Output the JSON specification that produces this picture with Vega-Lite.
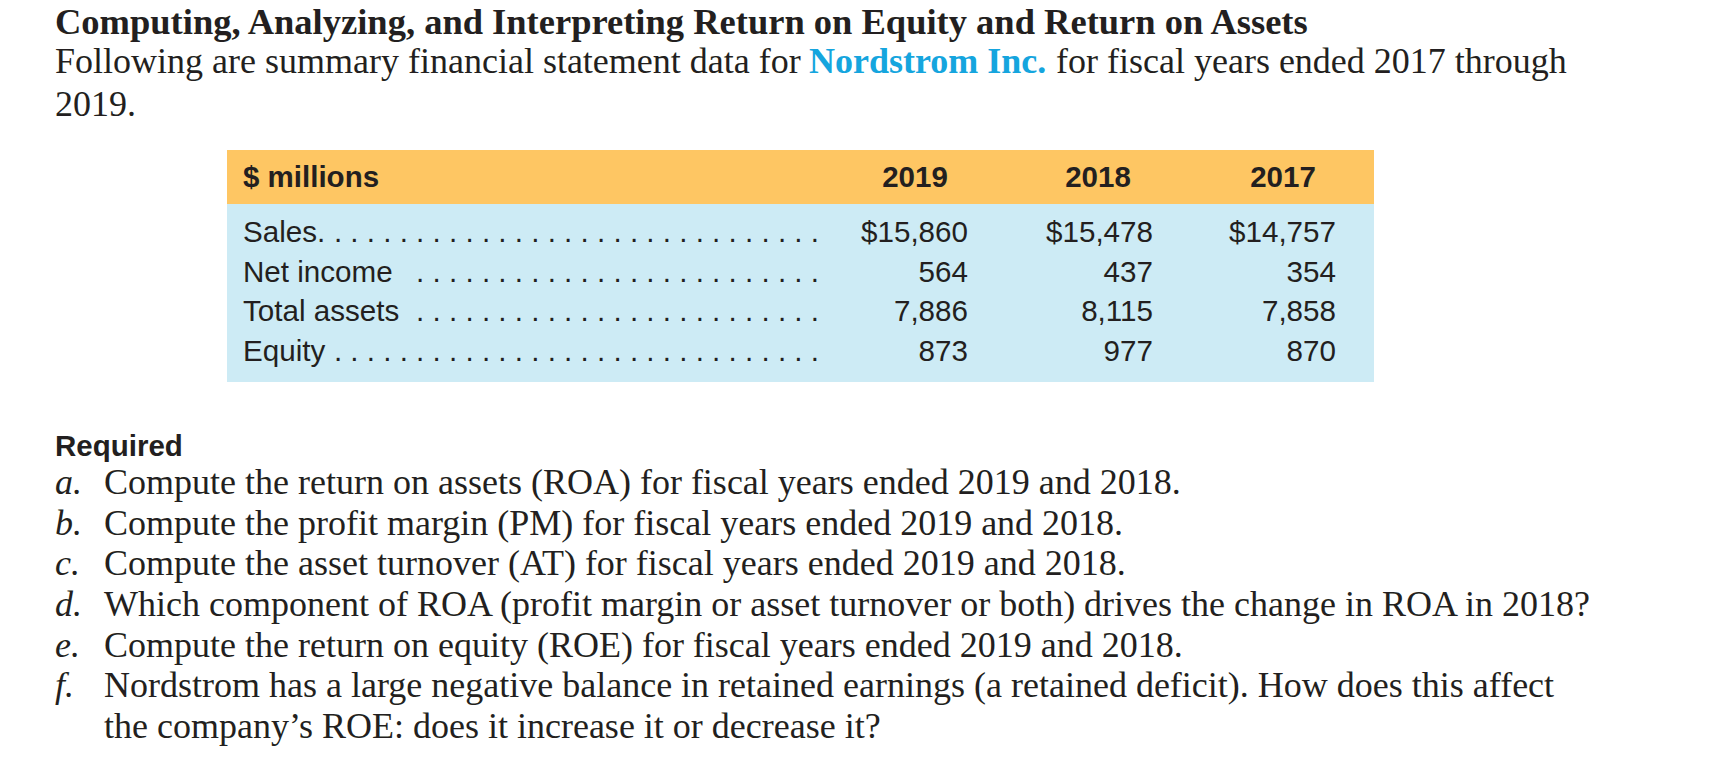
{
  "$schema": "https://vega.github.io/schema/vega-lite/v6.json",
  "width": 1710,
  "height": 773,
  "autosize": {"type": "fit", "contains": "padding"},
  "padding": 0,
  "background": "white",
  "config": {"view": {"stroke": null}, "axis": {"disable": true}, "legend": {"disable": true}},
  "resolve": {"scale": {"x": "independent", "y": "independent", "color": "independent"}},
  "layer": [
    {
      "data": {"values": [
        {"part": "header", "row_start": 0, "row_end": 1},
        {"part": "body", "row_start": 1, "row_end": 5}
      ]},
      "mark": {"type": "rect"},
      "encoding": {
        "x": {"datum": 0, "type": "quantitative", "scale": {"domain": [0, 1], "range": [227, 1374], "nice": false, "zero": false}},
        "x2": {"datum": 1},
        "y": {"field": "row_start", "type": "quantitative", "scale": {"domain": [0, 1, 5], "range": [150, 204, 382], "nice": false, "zero": false}},
        "y2": {"field": "row_end"},
        "color": {"field": "part", "type": "nominal", "scale": {"domain": ["header", "body"], "range": ["#FEC663", "#CDEBF5"]}, "legend": null}
      }
    },
    {
      "data": {"values": [{"line": 1, "seg": 1, "text": "Computing, Analyzing, and Interpreting Return on Equity and Return on Assets"}]},
      "mark": {"type": "text", "align": "left", "baseline": "alphabetic", "font": "Liberation Serif", "fontSize": 36.5, "fontWeight": "bold", "color": "#231F20"},
      "encoding": {
        "x": {"field": "seg", "type": "quantitative", "scale": {"domain": [1, 2, 3], "range": [55, 809, 1056], "nice": false, "zero": false}},
        "y": {"field": "line", "type": "quantitative", "scale": {"domain": [1, 2, 3], "range": [34, 73, 116], "nice": false, "zero": false}},
        "text": {"field": "text"}
      }
    },
    {
      "data": {"values": [
        {"line": 2, "seg": 1, "text": "Following are summary financial statement data for"},
        {"line": 2, "seg": 3, "text": "for fiscal years ended 2017 through"},
        {"line": 3, "seg": 1, "text": "2019."}
      ]},
      "mark": {"type": "text", "align": "left", "baseline": "alphabetic", "font": "Liberation Serif", "fontSize": 36, "color": "#231F20"},
      "encoding": {
        "x": {"field": "seg", "type": "quantitative", "scale": {"domain": [1, 2, 3], "range": [55, 809, 1056], "nice": false, "zero": false}},
        "y": {"field": "line", "type": "quantitative", "scale": {"domain": [1, 2, 3], "range": [34, 73, 116], "nice": false, "zero": false}},
        "text": {"field": "text"}
      }
    },
    {
      "data": {"values": [{"line": 2, "seg": 2, "text": "Nordstrom Inc."}]},
      "mark": {"type": "text", "align": "left", "baseline": "alphabetic", "font": "Liberation Serif", "fontSize": 36, "fontWeight": "bold", "color": "#15A5DE"},
      "encoding": {
        "x": {"field": "seg", "type": "quantitative", "scale": {"domain": [1, 2, 3], "range": [55, 809, 1056], "nice": false, "zero": false}},
        "y": {"field": "line", "type": "quantitative", "scale": {"domain": [1, 2, 3], "range": [34, 73, 116], "nice": false, "zero": false}},
        "text": {"field": "text"}
      }
    },
    {
      "data": {"values": [{"row": 0, "item": "$ millions"}]},
      "mark": {"type": "text", "align": "left", "baseline": "alphabetic", "font": "Liberation Sans", "fontSize": 29.5, "fontWeight": "bold", "color": "#231F20"},
      "encoding": {
        "x": {"datum": 0, "type": "quantitative", "scale": {"domain": [0, 1], "range": [243, 819], "nice": false, "zero": false}},
        "y": {"field": "row", "type": "quantitative", "scale": {"domain": [0, 1, 4], "range": [187, 242, 361], "nice": false, "zero": false}},
        "text": {"field": "item"}
      }
    },
    {
      "data": {"values": [{"year": 2019}, {"year": 2018}, {"year": 2017}]},
      "mark": {"type": "text", "align": "center", "baseline": "alphabetic", "font": "Liberation Sans", "fontSize": 29.5, "fontWeight": "bold", "color": "#231F20"},
      "encoding": {
        "x": {"field": "year", "type": "quantitative", "scale": {"domain": [2017, 2018, 2019], "range": [1283, 1098, 915], "nice": false, "zero": false}},
        "y": {"datum": 0, "type": "quantitative", "scale": {"domain": [0, 1, 4], "range": [187, 242, 361], "nice": false, "zero": false}},
        "text": {"field": "year", "type": "nominal"}
      }
    },
    {
      "data": {"values": [
        {"row": 1, "item": "Sales."},
        {"row": 2, "item": "Net income"},
        {"row": 3, "item": "Total assets"},
        {"row": 4, "item": "Equity"}
      ]},
      "mark": {"type": "text", "align": "left", "baseline": "alphabetic", "font": "Liberation Sans", "fontSize": 29.6, "color": "#231F20"},
      "encoding": {
        "x": {"datum": 0, "type": "quantitative", "scale": {"domain": [0, 1], "range": [243, 819], "nice": false, "zero": false}},
        "y": {"field": "row", "type": "quantitative", "scale": {"domain": [0, 1, 4], "range": [187, 242, 361], "nice": false, "zero": false}},
        "text": {"field": "item"}
      }
    },
    {
      "data": {"values": [
        {"row": 1, "item": "Sales."},
        {"row": 2, "item": "Net income"},
        {"row": 3, "item": "Total assets"},
        {"row": 4, "item": "Equity"}
      ]},
      "mark": {"type": "text", "align": "right", "baseline": "alphabetic", "font": "Liberation Sans", "fontSize": 29.6, "color": "#231F20"},
      "encoding": {
        "x": {"datum": 1, "type": "quantitative", "scale": {"domain": [0, 1], "range": [243, 819], "nice": false, "zero": false}},
        "y": {"field": "row", "type": "quantitative", "scale": {"domain": [0, 1, 4], "range": [187, 242, 361], "nice": false, "zero": false}},
        "text": {
          "condition": [
            {"test": "datum.item === 'Sales.' || datum.item === 'Equity'", "value": ". . . . . . . . . . . . . . . . . . . . . . . . . . . . . ."}
          ],
          "value": ". . . . . . . . . . . . . . . . . . . . . . . . ."
        }
      }
    },
    {
      "data": {"values": [
        {"item": "Sales", "row": 1, "year": 2019, "amount": 15860},
        {"item": "Sales", "row": 1, "year": 2018, "amount": 15478},
        {"item": "Sales", "row": 1, "year": 2017, "amount": 14757},
        {"item": "Net income", "row": 2, "year": 2019, "amount": 564},
        {"item": "Net income", "row": 2, "year": 2018, "amount": 437},
        {"item": "Net income", "row": 2, "year": 2017, "amount": 354},
        {"item": "Total assets", "row": 3, "year": 2019, "amount": 7886},
        {"item": "Total assets", "row": 3, "year": 2018, "amount": 8115},
        {"item": "Total assets", "row": 3, "year": 2017, "amount": 7858},
        {"item": "Equity", "row": 4, "year": 2019, "amount": 873},
        {"item": "Equity", "row": 4, "year": 2018, "amount": 977},
        {"item": "Equity", "row": 4, "year": 2017, "amount": 870}
      ]},
      "mark": {"type": "text", "align": "right", "baseline": "alphabetic", "font": "Liberation Sans", "fontSize": 29.6, "color": "#231F20"},
      "encoding": {
        "x": {"field": "year", "type": "quantitative", "scale": {"domain": [2017, 2018, 2019], "range": [1336, 1153, 968], "nice": false, "zero": false}},
        "y": {"field": "row", "type": "quantitative", "scale": {"domain": [0, 1, 4], "range": [187, 242, 361], "nice": false, "zero": false}},
        "text": {
          "condition": {"test": "datum.item === 'Sales'", "field": "amount", "type": "quantitative", "format": "$,.0f"},
          "field": "amount", "type": "quantitative", "format": ",.0f"
        }
      }
    },
    {
      "data": {"values": [{"line": 0, "text": "Required"}]},
      "mark": {"type": "text", "align": "left", "baseline": "alphabetic", "font": "Liberation Sans", "fontSize": 29.5, "fontWeight": "bold", "color": "#231F20"},
      "encoding": {
        "x": {"datum": 0, "type": "quantitative", "scale": {"domain": [0, 1], "range": [55, 104], "nice": false, "zero": false}},
        "y": {"field": "line", "type": "quantitative", "scale": {"domain": [0, 1, 7], "range": [456, 494, 738], "nice": false, "zero": false}},
        "text": {"field": "text"}
      }
    },
    {
      "data": {"values": [
        {"line": 1, "letter": "a."},
        {"line": 2, "letter": "b."},
        {"line": 3, "letter": "c."},
        {"line": 4, "letter": "d."},
        {"line": 5, "letter": "e."},
        {"line": 6, "letter": "f."}
      ]},
      "mark": {"type": "text", "align": "left", "baseline": "alphabetic", "font": "Liberation Serif", "fontSize": 36, "fontStyle": "italic", "color": "#231F20"},
      "encoding": {
        "x": {"datum": 0, "type": "quantitative", "scale": {"domain": [0, 1], "range": [55, 104], "nice": false, "zero": false}},
        "y": {"field": "line", "type": "quantitative", "scale": {"domain": [0, 1, 7], "range": [456, 494, 738], "nice": false, "zero": false}},
        "text": {"field": "letter"}
      }
    },
    {
      "data": {"values": [
        {"line": 1, "text": "Compute the return on assets (ROA) for fiscal years ended 2019 and 2018."},
        {"line": 2, "text": "Compute the profit margin (PM) for fiscal years ended 2019 and 2018."},
        {"line": 3, "text": "Compute the asset turnover (AT) for fiscal years ended 2019 and 2018."},
        {"line": 4, "text": "Which component of ROA (profit margin or asset turnover or both) drives the change in ROA in 2018?"},
        {"line": 5, "text": "Compute the return on equity (ROE) for fiscal years ended 2019 and 2018."},
        {"line": 6, "text": "Nordstrom has a large negative balance in retained earnings (a retained deficit). How does this affect"},
        {"line": 7, "text": "the company’s ROE: does it increase it or decrease it?"}
      ]},
      "mark": {"type": "text", "align": "left", "baseline": "alphabetic", "font": "Liberation Serif", "fontSize": 36, "color": "#231F20"},
      "encoding": {
        "x": {"datum": 1, "type": "quantitative", "scale": {"domain": [0, 1], "range": [55, 104], "nice": false, "zero": false}},
        "y": {"field": "line", "type": "quantitative", "scale": {"domain": [0, 1, 7], "range": [456, 494, 738], "nice": false, "zero": false}},
        "text": {"field": "text"}
      }
    }
  ]
}
